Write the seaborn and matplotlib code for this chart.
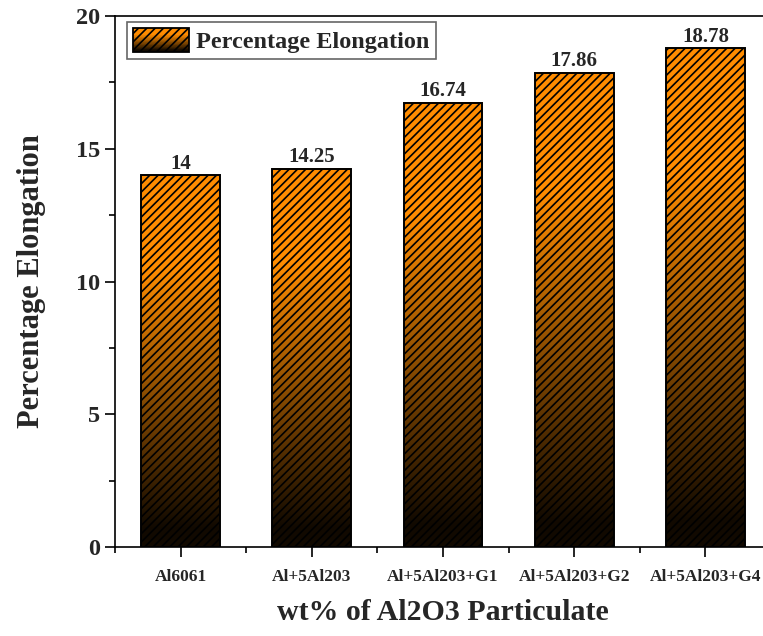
"""Percentage elongation bar chart"""
import numpy as np
import pandas as pd
import matplotlib
matplotlib.use('Agg')
import matplotlib.pyplot as plt
from matplotlib.patches import Rectangle
from matplotlib.legend_handler import HandlerBase
from matplotlib.ticker import FixedLocator, MultipleLocator
import seaborn as sns

# 数据
categories = ['Al6061', 'Al+5Al203', 'Al+5Al203+G1', 'Al+5Al203+G2', 'Al+5Al203+G4']
elongation = [14, 14.25, 16.74, 17.86, 18.78]
series_name = 'Percentage Elongation'

ORANGE = np.array([1.0, 0.55, 0.0])


def gradient_colors(n=256):
    """橙色 -> 黑色 渐变 (底部黑, 顶部橙)"""
    t = np.linspace(0, 1, n)
    f = np.clip(t / 0.75, 0.07, 1.0)
    return f[:, None] * ORANGE[None, :]


class GradientHandler(HandlerBase):
    def create_artists(self, legend, orig_handle, xdescent, ydescent,
                       width, height, fontsize, trans):
        artists = []
        cols = gradient_colors(40)
        n = len(cols)
        x0, y0 = -xdescent, -ydescent
        dh = height / n
        for i, c in enumerate(cols):
            r = Rectangle((x0, y0 + i * dh), width, dh * 1.05, facecolor=c,
                          edgecolor='none', transform=trans)
            artists.append(r)
        top = Rectangle((x0, y0), width, height, facecolor='none',
                        edgecolor='black', hatch='////', linewidth=1.3,
                        transform=trans)
        artists.append(top)
        return artists


sns.set_style('ticks')
plt.rcParams['font.family'] = ['Liberation Serif', 'DejaVu Serif']
plt.rcParams['font.weight'] = 'bold'
plt.rcParams['axes.labelweight'] = 'bold'
plt.rcParams['hatch.linewidth'] = 1.2
plt.rcParams['hatch.color'] = 'black'

df = pd.DataFrame({'category': categories, 'value': elongation})

fig = plt.figure(figsize=(7.63, 6.36), dpi=100)
ax = fig.add_axes([115 / 763, 89 / 636, 656 / 763, 531 / 636])

sns.barplot(data=df, x='category', y='value', ax=ax, color='#ff8c00',
            width=0.6, edgecolor='black', linewidth=1.4, hatch='////',
            zorder=3)

# 每个柱子用渐变填充
grad = gradient_colors()[:, None, :]
for p in ax.patches:
    x0 = p.get_x()
    w = p.get_width()
    h = p.get_height()
    ax.imshow(grad, extent=[x0, x0 + w, 0, h], origin='lower',
              aspect='auto', zorder=2, interpolation='bilinear')
    p.set_facecolor('none')

ax.set_xlim(-0.5, len(categories) - 0.5)
ax.set_ylim(0, 20)

ax.bar_label(ax.containers[0], labels=[f'{v:g}' for v in elongation],
             padding=1, fontsize=15, fontweight='bold')

# 坐标轴
for s in ax.spines.values():
    s.set_linewidth(1.2)
    s.set_color('black')
ax.yaxis.set_major_locator(MultipleLocator(5))
ax.yaxis.set_minor_locator(MultipleLocator(2.5))
ax.xaxis.set_minor_locator(FixedLocator(np.arange(-0.5, len(categories), 1.0)))
ax.tick_params(axis='both', which='major', direction='out', length=7,
               width=1.2, color='black')
ax.tick_params(axis='both', which='minor', direction='out', length=4,
               width=1.2, color='black')
ax.tick_params(axis='y', labelsize=17.5)
ax.tick_params(axis='x', labelsize=12.5, pad=9)
for lab in ax.get_xticklabels() + ax.get_yticklabels():
    lab.set_fontweight('bold')

ax.set_xlabel('wt% of Al2O3 Particulate', fontsize=21.5, fontweight='bold',
              labelpad=10)
ax.set_ylabel('Percentage Elongation', fontsize=22, fontweight='bold',
              labelpad=22)

handle = Rectangle((0, 0), 1, 1)
leg = ax.legend([handle], [series_name], handler_map={Rectangle: GradientHandler()},
                loc='upper left', bbox_to_anchor=(0.018, 0.988),
                borderaxespad=0, fancybox=False, framealpha=1,
                edgecolor='#666666', handlelength=2.3,
                handleheight=1.1, handletextpad=0.3, borderpad=0.25,
                prop={'weight': 'bold', 'size': 17.5})
leg.get_frame().set_linewidth(1.2)

fig.savefig('out.png', dpi=100)
plt.close(fig)
